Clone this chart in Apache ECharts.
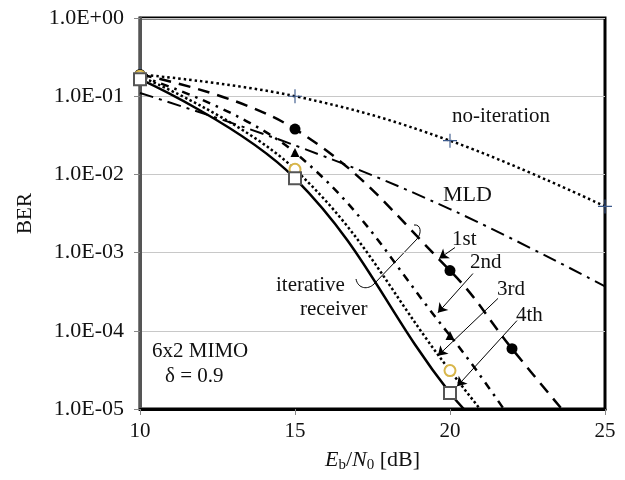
<!DOCTYPE html>
<html>
<head>
<meta charset="utf-8">
<script src="https://cdn.jsdelivr.net/npm/echarts@6/dist/echarts.min.js"></script>
<style>
  html, body { margin: 0; padding: 0; background: #fff; }
  #main { width: 625px; height: 480px; }
</style>
</head>
<body>
<div id="main"></div>
<script>
// Eb/N0 [dB] for each curve
var snrRef = [10, 15, 20, 25];
var snr1st = [10, 15, 20, 22, 24];
var snrIter = [10, 15, 20, 22];

// BER
var berNoIter = [0.19, 0.10, 0.027, 0.0039];
var berMLD = [0.11, 0.0235, 0.0036, 0.00037];
var ber1st = [0.19, 0.038, 0.00059, 0.000059, 0.0000065];
var ber2nd = [0.18, 0.019, 0.000087, 0.000007];
var ber3rd = [0.18, 0.0116, 0.000031, 0.000003];
var ber4th = [0.165, 0.0089, 0.000016, 0.0000026];

var yMin = 1e-5;
var serif = "Liberation Serif";

// labels pointing at the curves
var iterLabels = ["1st", "2nd", "3rd", "4th"];
var arrowFrom = [[20.16, 0.00116], [20.74, 0.00054], [21.55, 0.00026], [22.16, 0.000135]];
var arrowTo = [[19.65, 0.00084], [19.61, 0.00017], [19.61, 0.000048], [20.23, 0.0000195]];

function pts(xs, ys) {
  var out = [];
  for (var i = 0; i < xs.length; i++) {
    var d = { value: [xs[i], ys[i]] };
    if (ys[i] < yMin) d.symbol = "none";
    out.push(d);
  }
  return out;
}

function expLabel(v) {
  var e = Math.round(Math.log10(v));
  var s = String(Math.abs(e));
  if (s.length < 2) s = "0" + s;
  return "1.0E" + (e >= 0 ? "+" : "-") + s;
}

var plusPath = "path://M4.6,0 H5.4 V4.6 H10 V5.4 H5.4 V10 H4.6 V5.4 H0 V4.6 H4.6 Z";

var arrowLines = [];
for (var k = 0; k < arrowFrom.length; k++) {
  arrowLines.push([{ coord: arrowFrom[k] }, { coord: arrowTo[k] }]);
}

function txt(x, y, s, size) {
  return {
    type: "text", left: x, top: y,
    style: { text: s, fontFamily: serif, fontSize: size || 21, fill: "#111" }
  };
}
function curve(x1, y1, c1x, c1y, c2x, c2y, x2, y2) {
  return {
    type: "bezierCurve",
    shape: { x1: x1, y1: y1, cpx1: c1x, cpy1: c1y, cpx2: c2x, cpy2: c2y, x2: x2, y2: y2 },
    style: { stroke: "#000", lineWidth: 1, fill: null }
  };
}

var chart = echarts.init(document.getElementById("main"));

var option = {
  animation: false,
  textStyle: { fontFamily: serif },
  grid: {
    left: 140, right: 20, top: 18, bottom: 71,
    show: true, borderColor: "#000", borderWidth: 3
  },
  xAxis: {
    type: "value", min: 10, max: 25, interval: 5,
    name: "{i|E}{s|b}{n|/}{i|N}{s|0}{n| [dB]}",
    nameLocation: "middle", nameGap: 38,
    nameTextStyle: {
      rich: {
        i: { fontFamily: serif, fontSize: 22, fontStyle: "italic", color: "#111", lineHeight: 26 },
        n: { fontFamily: serif, fontSize: 22, color: "#111", lineHeight: 26 },
        s: { fontFamily: serif, fontSize: 15, color: "#111", lineHeight: 11, verticalAlign: "bottom" }
      }
    },
    axisLine: { lineStyle: { color: "#000", width: 3 } },
    axisTick: { show: true, inside: false, length: 6, lineStyle: { color: "#888", width: 1 } },
    axisLabel: { fontFamily: serif, fontSize: 21, color: "#111", margin: 12 },
    splitLine: { show: false }
  },
  yAxis: {
    type: "log", logBase: 10, min: yMin, max: 1,
    name: "BER", nameLocation: "middle", nameGap: 104,
    nameTextStyle: { fontFamily: serif, fontSize: 21, color: "#111" },
    axisLine: { lineStyle: { color: "#555", width: 3 } },
    axisTick: { show: true, inside: false, length: 6, lineStyle: { color: "#888", width: 1 } },
    axisLabel: { fontFamily: serif, fontSize: 22, color: "#111", margin: 16, formatter: expLabel },
    splitLine: { show: true, lineStyle: { color: "#c8c8c8", width: 1 } },
    minorTick: { show: false }
  },
  series: [
    {
      name: "no-iteration", type: "line", smooth: 0.4,
      data: pts(snrRef, berNoIter),
      symbol: plusPath, symbolSize: 14,
      itemStyle: { color: "#3c5a8c" },
      lineStyle: { color: "#000", width: 2.5, type: [2.5, 3] },
      markLine: {
        silent: true, symbol: ["none", "arrow"], symbolSize: 9,
        label: { show: false },
        lineStyle: { color: "#000", width: 1, type: "solid" },
        data: arrowLines
      }
    },
    {
      name: "MLD", type: "line", smooth: 0.4,
      data: pts(snrRef, berMLD), symbol: "none",
      lineStyle: { color: "#000", width: 2, type: [14, 6, 3, 6] }
    },
    {
      name: "1st", type: "line", smooth: 0.4,
      data: pts(snr1st, ber1st),
      symbol: "circle", symbolSize: 11,
      itemStyle: { color: "#000" },
      lineStyle: { color: "#000", width: 2.5, type: [12, 8] }
    },
    {
      name: "2nd", type: "line", smooth: 0.4,
      data: pts(snrIter, ber2nd),
      symbol: "triangle", symbolSize: 9,
      itemStyle: { color: "#000" },
      lineStyle: { color: "#000", width: 2.5, type: [8, 6, 2.5, 6] }
    },
    {
      name: "3rd", type: "line", smooth: 0.4,
      data: pts(snrIter, ber3rd),
      symbol: "emptyCircle", symbolSize: 11,
      itemStyle: { color: "#d8b64a", borderWidth: 1.2 },
      lineStyle: { color: "#000", width: 2.5, type: [2.5, 2.5] }
    },
    {
      name: "4th", type: "line", smooth: 0.4,
      data: pts(snrIter, ber4th),
      symbol: "emptyRect", symbolSize: 12,
      itemStyle: { color: "#555", borderWidth: 1 },
      lineStyle: { color: "#000", width: 2.5, type: "solid" }
    }
  ],
  graphic: [
    txt(452, 106, "no-iteration"),
    txt(443, 184, "MLD", 22),
    txt(452, 229, iterLabels[0]),
    txt(470, 252, iterLabels[1]),
    txt(497, 279, iterLabels[2]),
    txt(516, 305, iterLabels[3]),
    txt(276, 275, "iterative"),
    txt(300, 299, "receiver"),
    txt(152, 341, "6x2 MIMO"),
    txt(165, 366, "\u03b4 = 0.9"),
    // brace joining the iterative-receiver curves
    curve(356, 279, 358, 289, 368, 290, 374, 284),
    { type: "line", shape: { x1: 374, y1: 284, x2: 417, y2: 239 }, style: { stroke: "#000", lineWidth: 1 } },
    curve(417, 239, 422, 233, 421, 224, 414, 225)
  ]
};

chart.setOption(option);
</script>
</body>
</html>
